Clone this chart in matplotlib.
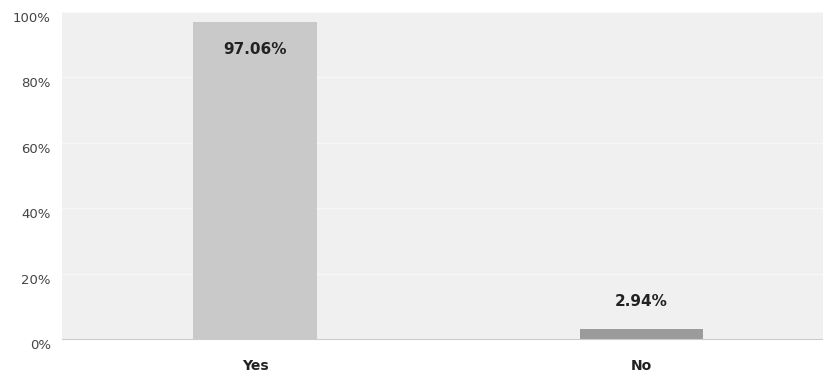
import numpy as np
import matplotlib.pyplot as plt

cats = ["Yes", "No"]
vals = [97.06, 2.94]
colors = ["#c9c9c9", "#9b9b9b"]
yticks = [0, 20, 40, 60, 80, 100]

fig = plt.figure(figsize=(8.23, 3.81), dpi=100)
ax = fig.add_axes([0.0753, 0.11, 0.9247, 0.8585])
ax.set_facecolor("#f0f0f0")

x = np.arange(len(cats))
ax.bar(x, vals, width=0.32, color=colors, zorder=2)

ax.set_xlim(-0.5, 1.47)
ax.set_ylim(0, 100)
ax.set_yticks(yticks)
ax.set_yticklabels([f"{t}%" for t in yticks], color="#444444", fontsize=9.5, va="top")
ax.set_xticks(x)
ax.set_xticklabels(cats, fontweight="bold", fontsize=10, color="#222222")
ax.tick_params(axis="both", length=0)
ax.tick_params(axis="x", pad=14)
ax.tick_params(axis="y", pad=8)
ax.grid(axis="y", color="#f7f7f7", linewidth=1, zorder=1)
for s in ["top", "right", "left"]:
    ax.spines[s].set_visible(False)
ax.spines["bottom"].set_color("#cccccc")

# value labels
ax.text(x[0], vals[0] - 8.5, f"{vals[0]:.2f}%", ha="center", va="center",
        fontweight="bold", fontsize=11, color="#222222", zorder=3)
ax.text(x[1], vals[1] + 8.4, f"{vals[1]:.2f}%", ha="center", va="center",
        fontweight="bold", fontsize=11, color="#222222", zorder=3)

fig.savefig("out.png", dpi=100)
